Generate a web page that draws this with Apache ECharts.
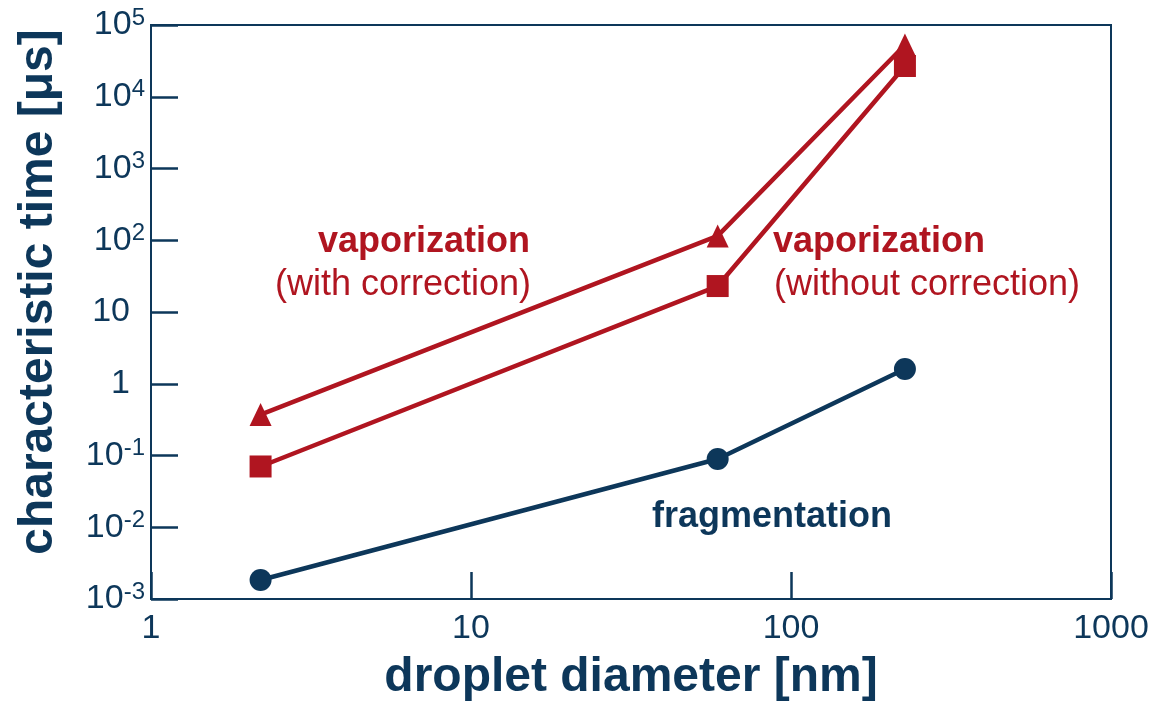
<!DOCTYPE html>
<html>
<head>
<meta charset="utf-8">
<script src="https://cdn.jsdelivr.net/npm/echarts@6/dist/echarts.min.js"></script>
<style>html,body{margin:0;padding:0;background:#fff}#c{width:1163px;height:708px}</style>
</head>
<body>
<div id="c"></div>
<script>
// droplet diameter [nm]
const diameters = [2.2, 59, 227];
// characteristic time [µs]
const fragmentation = [0.00184, 0.0893, 1.61];
const vaporWithCorrection = [0.372, 115, 52600];
const vaporWithoutCorrection = [0.0703, 23.0, 26850];
const xTicks = [1, 10, 100, 1000];
const yTickExponents = [-3, -2, -1, 0, 1, 2, 3, 4, 5];

const NAVY = '#0d375a';
const RED = '#b01520';
const FONT = '"Liberation Sans", Arial, Helvetica, sans-serif';

const pairs = vals => diameters.map((d, i) => [d, vals[i]]);

const chart = echarts.init(document.getElementById('c'), null, {renderer: 'canvas'});

function yLabel(v) {
  const e = Math.round(Math.log10(v));
  if (e === 0) return '{b|1}{p|}';
  if (e === 1) return '{b|10}{p|}';
  return '{b|10}{s|' + e + '}';
}

const option = {
  backgroundColor: '#fff',
  animation: false,
  grid: {
    left: 151, right: 52, top: 25, bottom: 109,
    show: true, borderColor: NAVY, borderWidth: 2, backgroundColor: 'transparent'
  },
  xAxis: {
    type: 'log', logBase: 10, min: xTicks[0], max: xTicks[xTicks.length - 1],
    name: 'droplet diameter [nm]', nameLocation: 'middle', nameGap: 55,
    nameTextStyle: {fontFamily: FONT, fontSize: 48, fontWeight: 'bold', color: NAVY},
    axisLine: {show: true, lineStyle: {color: NAVY, width: 2}},
    axisTick: {show: true, inside: true, length: 27, lineStyle: {color: NAVY, width: 2.5}},
    minorTick: {show: false},
    splitLine: {show: false},
    axisLabel: {
      fontFamily: FONT, fontSize: 34, color: NAVY, margin: 13,
      showMinLabel: true, showMaxLabel: true,
      formatter: v => String(Math.round(v))
    }
  },
  yAxis: {
    type: 'log', logBase: 10,
    min: Math.pow(10, yTickExponents[0]), max: Math.pow(10, yTickExponents[yTickExponents.length - 1]),
    name: 'characteristic time [μs]', nameLocation: 'middle', nameGap: 88,
    nameTextStyle: {fontFamily: FONT, fontSize: 48, fontWeight: 'bold', color: NAVY, padding: [0, 0, 0, 40]},
    axisLine: {show: true, lineStyle: {color: NAVY, width: 2}},
    axisTick: {show: true, inside: true, length: 27, lineStyle: {color: NAVY, width: 2.5}},
    minorTick: {show: false},
    splitLine: {show: false},
    axisLabel: {
      fontFamily: FONT, color: NAVY, margin: 6,
      showMinLabel: true, showMaxLabel: true,
      formatter: yLabel,
      rich: {
        b: {fontFamily: FONT, fontSize: 34, color: NAVY, lineHeight: 38},
        s: {fontFamily: FONT, fontSize: 24, color: NAVY, lineHeight: 26, verticalAlign: 'top'},
        p: {width: 15, fontSize: 24}
      }
    }
  },
  series: [
    {
      name: 'fragmentation', type: 'line', data: pairs(fragmentation),
      symbol: 'circle', symbolSize: 22,
      lineStyle: {color: NAVY, width: 4.5}, itemStyle: {color: NAVY}
    },
    {
      name: 'vaporization (with correction)', type: 'line', data: pairs(vaporWithCorrection),
      symbol: 'triangle', symbolSize: [22, 23],
      lineStyle: {color: RED, width: 4.5}, itemStyle: {color: RED}
    },
    {
      name: 'vaporization (without correction)', type: 'line', data: pairs(vaporWithoutCorrection),
      symbol: 'rect', symbolSize: 22,
      lineStyle: {color: RED, width: 4.5}, itemStyle: {color: RED}
    }
  ],
  graphic: [
    {type: 'text', x: 424, y: 242, style: {text: 'vaporization', font: 'bold 36px ' + FONT, fill: RED, align: 'center', verticalAlign: 'middle'}},
    {type: 'text', x: 403, y: 285, style: {text: '(with correction)', font: '36px ' + FONT, fill: RED, align: 'center', verticalAlign: 'middle'}},
    {type: 'text', x: 773, y: 242, style: {text: 'vaporization', font: 'bold 36px ' + FONT, fill: RED, align: 'left', verticalAlign: 'middle'}},
    {type: 'text', x: 774, y: 285, style: {text: '(without correction)', font: '36px ' + FONT, fill: RED, align: 'left', verticalAlign: 'middle'}},
    {type: 'text', x: 772, y: 517, style: {text: 'fragmentation', font: 'bold 36px ' + FONT, fill: NAVY, align: 'center', verticalAlign: 'middle'}}
  ]
};
chart.setOption(option);
</script>
</body>
</html>
